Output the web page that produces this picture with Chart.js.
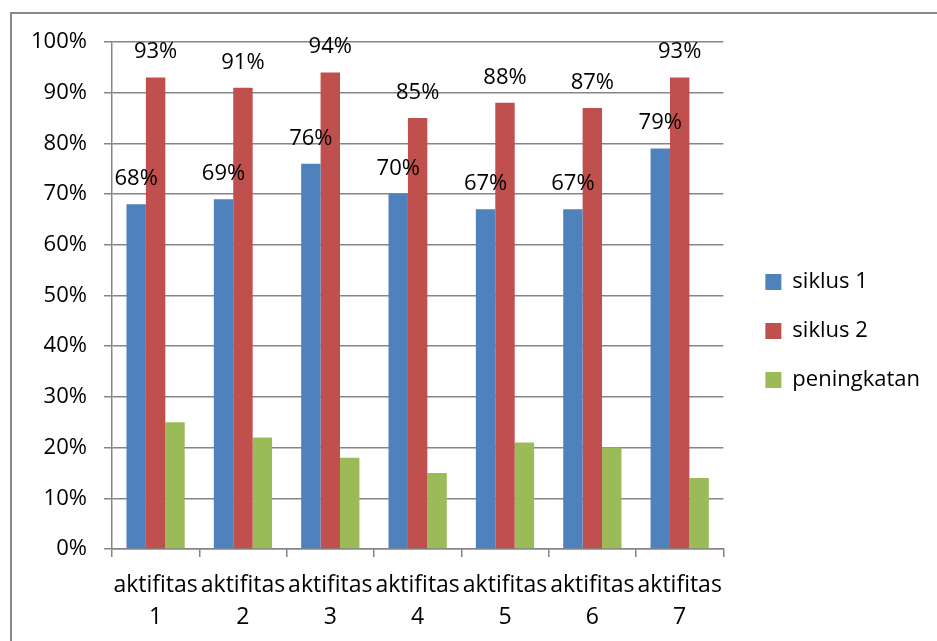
<!DOCTYPE html>
<html>
<head>
<meta charset="utf-8">
<script src="https://cdn.jsdelivr.net/npm/chart.js@4/dist/chart.umd.min.js"></script>
<style>
  html, body { margin: 0; padding: 0; background: #fff; }
  canvas { display: block; }
</style>
</head>
<body>
<canvas id="chart" width="937" height="641"></canvas>
<script>
// data (percent)
const categories = [
    ["aktifitas", "1"], ["aktifitas", "2"], ["aktifitas", "3"], ["aktifitas", "4"],
    ["aktifitas", "5"], ["aktifitas", "6"], ["aktifitas", "7"],
];
const siklus1 = [68, 69, 76, 70, 67, 67, 79];
const siklus2 = [93, 91, 94, 85, 88, 87, 93];
const peningkatan = [25, 22, 18, 15, 21, 20, 14];
const yTicks = [0, 10, 20, 30, 40, 50, 60, 70, 80, 90, 100];

const gridColor = "#858585";

Chart.defaults.font.family = "'Open Sans', sans-serif";
Chart.defaults.font.size = 22;
Chart.defaults.color = "#000";

// grey frame around the chart, open at right/bottom like the screenshot
const frame = {
    id: "frame",
    beforeDraw(chart) {
        const ctx = chart.ctx;
        ctx.save();
        ctx.strokeStyle = "#8a8a8a";
        ctx.lineWidth = 2;
        ctx.strokeRect(11, 13, 1000, 1000);
        ctx.restore();
    },
};

// value labels above siklus 1 / siklus 2 bars
const valueLabels = {
    id: "valueLabels",
    afterDatasetsDraw(chart) {
        const ctx = chart.ctx;
        ctx.save();
        ctx.font = "22px 'Open Sans', sans-serif";
        ctx.fillStyle = "#000";
        ctx.textAlign = "center";
        ctx.textBaseline = "alphabetic";
        [0, 1].forEach((di) => {
            const meta = chart.getDatasetMeta(di);
            meta.data.forEach((bar, i) => {
                const v = chart.data.datasets[di].data[i];
                ctx.fillText(v + "%", bar.x, bar.y - 19);
            });
        });
        ctx.restore();
    },
};

// invisible spacer axis of fixed size
const spacer = (position, size) => ({
    type: "linear",
    position: position,
    grid: { display: false },
    border: { display: false },
    ticks: { display: false },
    afterFit(scale) {
        if (scale.isHorizontal()) scale.height = size;
        else scale.width = size;
    },
});

new Chart(document.getElementById("chart"), {
    type: "bar",
    data: {
        labels: categories,
        datasets: [
            { label: "siklus 1", data: siklus1, backgroundColor: "#4f81bd" },
            { label: "siklus 2", data: siklus2, backgroundColor: "#c0504d" },
            { label: "peningkatan", data: peningkatan, backgroundColor: "#9bbb59" },
        ],
    },
    options: {
        responsive: false,
        animation: false,
        devicePixelRatio: 1,
        categoryPercentage: 0.667,
        barPercentage: 1.0,
        layout: { padding: { left: 14, right: 7, top: 21, bottom: 0 } },
        plugins: {
            tooltip: { enabled: false },
            legend: {
                position: "right",
                maxWidth: 300,
                labels: {
                    boxWidth: 16,
                    boxHeight: 16,
                    padding: 27,
                    font: { size: 22 },
                },
            },
        },
        scales: {
            x: {
                grid: {
                    drawOnChartArea: false,
                    drawTicks: true,
                    tickLength: 8,
                    color: gridColor,
                    lineWidth: 1.5,
                },
                border: { color: gridColor, width: 1.5 },
                ticks: {
                    maxRotation: 0,
                    autoSkip: false,
                    padding: 12,
                    font: { size: 23, lineHeight: "32px" },
                },
                // keep the plot bottom where the reference has it
                afterFit(scale) {
                    scale.height = 92;
                },
            },
            y: {
                min: 0,
                max: 100,
                afterBuildTicks(scale) {
                    scale.ticks = yTicks.map((v) => ({ value: v }));
                },
                grid: { color: gridColor, lineWidth: 1.5, tickLength: 8 },
                border: { color: gridColor, width: 1.5 },
                ticks: { padding: 17, callback: (v) => v + "%" },
            },
            // empty space above the plot and between plot and legend
            padTop: spacer("top", 21),
            padRight: spacer("right", 15),
        },
    },
    plugins: [frame, valueLabels],
});
</script>
</body>
</html>
